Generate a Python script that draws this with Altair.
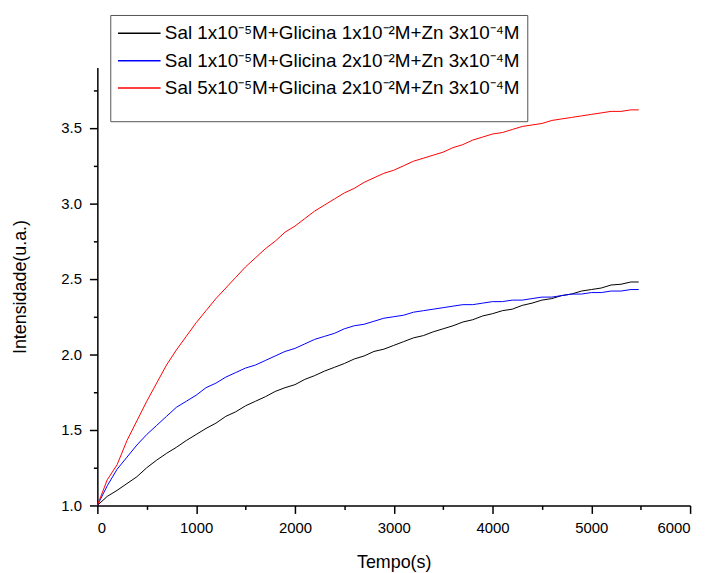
import altair as alt
import pandas as pd

tempo = [0, 100, 200, 300, 400, 500, 600, 700, 800, 900, 1000, 1100, 1200, 1300, 1400,
         1500, 1600, 1700, 1800, 1900, 2000, 2100, 2200, 2300, 2400, 2500, 2600, 2700,
         2800, 2900, 3000, 3100, 3200, 3300, 3400, 3500, 3600, 3700, 3800, 3900, 4000,
         4100, 4200, 4300, 4400, 4500, 4600, 4700, 4800, 4900, 5000, 5100, 5200, 5300,
         5400, 5480]

preto = [1.00, 1.06, 1.10, 1.145, 1.19, 1.25, 1.30, 1.345, 1.385, 1.43, 1.47, 1.51, 1.545,
         1.59, 1.62, 1.66, 1.69, 1.72, 1.755, 1.78, 1.80, 1.835, 1.86, 1.89, 1.915, 1.94,
         1.97, 1.99, 2.02, 2.035, 2.06, 2.085, 2.11, 2.125, 2.15, 2.17, 2.19, 2.215, 2.23,
         2.255, 2.27, 2.29, 2.30, 2.325, 2.34, 2.36, 2.37, 2.39, 2.40, 2.42, 2.43, 2.44,
         2.46, 2.465, 2.48, 2.48]

azul = [1.00, 1.13, 1.24, 1.32, 1.40, 1.47, 1.53, 1.59, 1.65, 1.69, 1.73, 1.78, 1.81,
        1.85, 1.88, 1.91, 1.93, 1.96, 1.99, 2.02, 2.04, 2.07, 2.10, 2.12, 2.14, 2.17, 2.19,
        2.20, 2.22, 2.24, 2.25, 2.26, 2.28, 2.29, 2.30, 2.31, 2.32, 2.33, 2.33, 2.34, 2.35,
        2.35, 2.36, 2.36, 2.37, 2.38, 2.38, 2.39, 2.40, 2.40, 2.41, 2.41, 2.42, 2.42, 2.43,
        2.43]

vermelho = [1.00, 1.17, 1.27, 1.43, 1.56, 1.69, 1.81, 1.93, 2.03, 2.12, 2.21, 2.29, 2.37,
            2.44, 2.51, 2.58, 2.64, 2.70, 2.75, 2.81, 2.85, 2.90, 2.95, 2.99, 3.03, 3.07,
            3.10, 3.14, 3.17, 3.20, 3.22, 3.25, 3.28, 3.30, 3.32, 3.34, 3.37, 3.39, 3.42,
            3.44, 3.46, 3.47, 3.49, 3.51, 3.52, 3.53, 3.55, 3.56, 3.57, 3.58, 3.59, 3.60,
            3.61, 3.61, 3.62, 3.62]

series = [
    "Sal 1x10⁻⁵M+Glicina 1x10⁻²M+Zn 3x10⁻⁴M",
    "Sal 1x10⁻⁵M+Glicina 2x10⁻²M+Zn 3x10⁻⁴M",
    "Sal 5x10⁻⁵M+Glicina 2x10⁻²M+Zn 3x10⁻⁴M",
]
cores = ["#000000", "#0000ff", "#ff0000"]

rows = []
for nome, vals in zip(series, [preto, azul, vermelho]):
    for t, v in zip(tempo, vals):
        rows.append({"Tempo": t, "Intensidade": v, "Serie": nome})
df = pd.DataFrame(rows)

font = "Liberation Sans"

x_ticks = list(range(0, 6001, 500))
y_ticks = [1.0 + 0.25 * i for i in range(12)]

chart = alt.Chart(df).mark_line(strokeWidth=1).encode(
    x=alt.X("Tempo:Q", scale=alt.Scale(domain=[0, 6000], nice=False),
            axis=alt.Axis(title="Tempo(s)", values=x_ticks, grid=False, format="d",
                          labelExpr="datum.value % 1000 === 0 ? datum.label : ''",
                          tickSize={"condition": {"test": "datum.value % 1000 === 0", "value": 8}, "value": 4},
                          labelOverlap=False, labelFontSize=15, titleFontSize=18,
                          titleFontWeight="normal", titlePadding=18, labelPadding=7,
                          domainColor="black", domainWidth=1.5, tickColor="black",
                          tickWidth=1.5, labelColor="black", titleColor="black",
                          labelFont=font, titleFont=font)),
    y=alt.Y("Intensidade:Q", scale=alt.Scale(domain=[1.0, 3.9], nice=False, zero=False),
            axis=alt.Axis(title="Intensidade(u.a.)", values=y_ticks, grid=False, format=".1f",
                          labelExpr="round(datum.value * 4) % 2 === 0 ? datum.label : ''",
                          tickSize={"condition": {"test": "round(datum.value * 4) % 2 === 0", "value": 8}, "value": 4},
                          labelOverlap=False, labelFontSize=15, titleFontSize=18,
                          titleFontWeight="normal", titlePadding=32, labelPadding=8,
                          domainColor="black", domainWidth=1.5, tickColor="black",
                          tickWidth=1.5, labelColor="black", titleColor="black",
                          labelFont=font, titleFont=font)),
    color=alt.Color("Serie:N",
                    scale=alt.Scale(domain=series, range=cores),
                    legend=alt.Legend(title=" ", titleOrient="bottom", titleFontSize=10,
                                      titlePadding=6,
                                      orient="none", legendX=13, legendY=-53,
                                      symbolType="M-1,0H3", symbolStrokeWidth=1.5,
                                      symbolSize=460, labelFontSize=19, labelFont=font,
                                      labelColor="black", strokeColor="#555555",
                                      padding=7, rowPadding=5.5, labelLimit=500,
                                      labelOffset=25)),
).properties(
    width=597, height=441,
    autosize=alt.AutoSizeParams(type="none"),
    padding={"left": 90, "top": 58, "right": 14, "bottom": 65},
).configure_view(stroke=None)

chart.save("out.html", embed_options={"renderer": "svg", "actions": False})
